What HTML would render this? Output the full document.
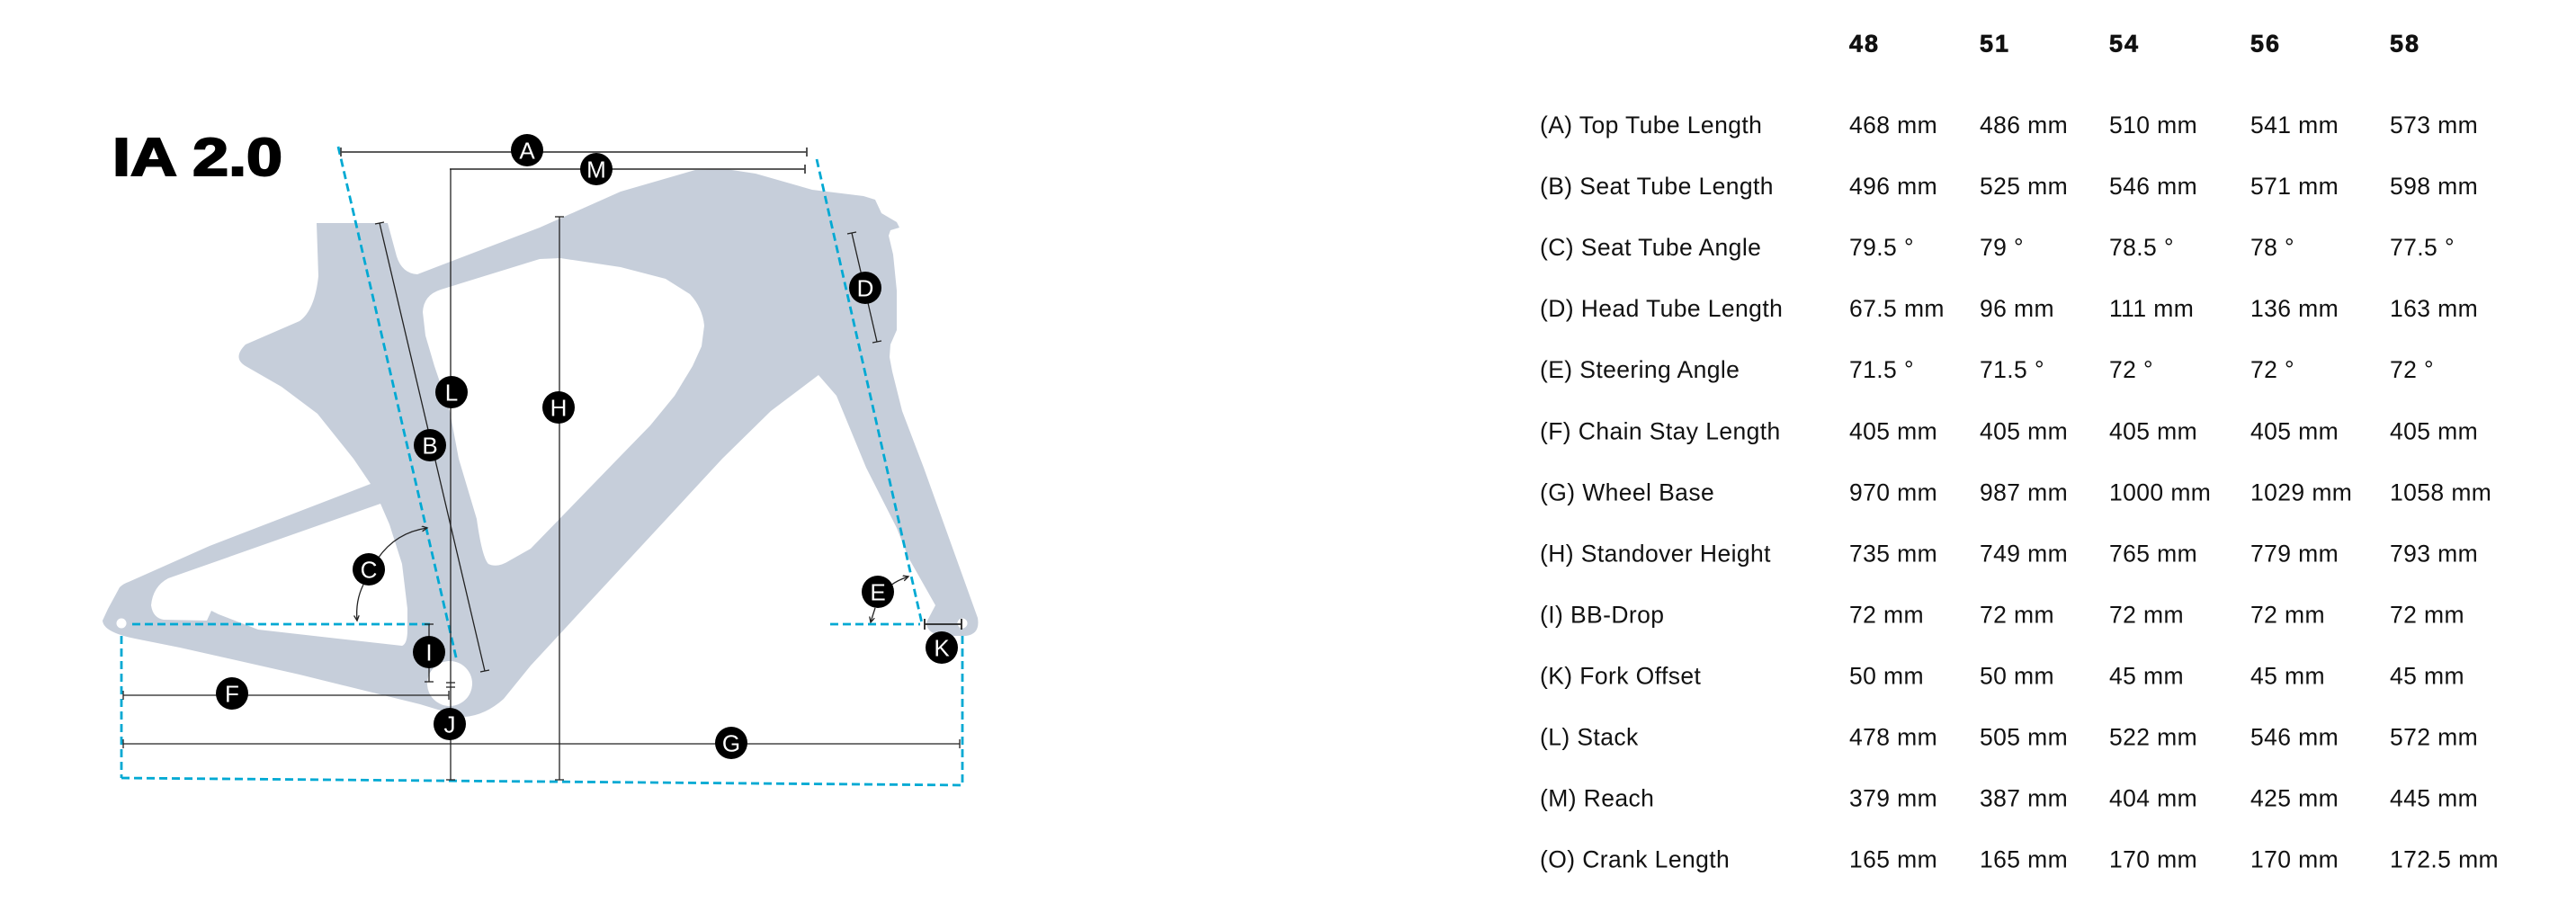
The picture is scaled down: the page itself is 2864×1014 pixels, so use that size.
<!DOCTYPE html>
<html><head><meta charset="utf-8"><style>
html,body{margin:0;padding:0;background:#fff;}
svg{display:block;}
.t{font-family:"Liberation Sans",Arial,sans-serif;font-size:26.5px;fill:#111;letter-spacing:0.4px;}
.h{font-family:"Liberation Sans",Arial,sans-serif;font-size:27px;font-weight:bold;fill:#111;stroke:#111;stroke-width:0.7px;letter-spacing:2px;}
.lt{font-family:"Liberation Sans",Arial,sans-serif;font-size:26px;fill:#fff;text-anchor:middle;}
</style></head><body>
<svg width="2864" height="1014" viewBox="0 0 2864 1014" xmlns="http://www.w3.org/2000/svg">
<defs>
<marker id="ar" markerWidth="8" markerHeight="8" refX="6" refY="3" orient="auto" markerUnits="userSpaceOnUse">
<path d="M0,0 L6,3 L0,6" fill="none" stroke="#222" stroke-width="1.3"/>
</marker>
</defs>
<rect width="2864" height="1014" fill="#fff"/>

<!-- Title -->
<text x="125" y="195" font-family="Liberation Sans, Arial, sans-serif" font-weight="bold" font-size="59" textLength="189" lengthAdjust="spacingAndGlyphs" fill="#000" stroke="#000" stroke-width="2">IA 2.0</text>

<!-- Frame silhouette -->
<path fill="#c6ceda" fill-rule="evenodd" d="
M352,248 L431,248 L441,285 Q447,304 464,305
L600,253 L690,213 L773,189 L807,188 L840,193 L903,211 L960,218 L973,222 L980,237 L997,247 L1000,253 L990,256 L988,262
L993,283 L997,323 L997,367 L990,383 L989,397 L992,413
L1003,457 L1027,520 L1087,687 Q1090,705 1074,707 L1050,707 Q1030,705 1030,692 L1040,673
L1027,650 L1010,620 L997,587 L963,520 L930,440 L910,417
L857,457 L803,510 L590,740 L560,777 Q540,795 517,797 L500,793
L467,783 L333,750 L200,720 L150,710 Q115,703 114,690 L120,677 L133,653 Q137,649 143,647
L233,607 L412,538 L393,510 L353,460 L313,430 L273,407 Q258,398 273,383 L333,357 Q350,345 354,307 Z
M490,322 L600,288 L623,287 L690,297 L740,310 L767,327 Q781,342 783,362 L780,385 L770,407 L750,440 L723,473 L687,510 L590,610 L567,623 Q553,632 543,627 Q536,620 530,577 L510,510 L500,457 L483,407 L473,373 L470,347 Q471,328 490,322 Z
M423,560 L187,643 Q170,652 168,673 Q170,687 182,689 L230,690 L235,679 L243,683 L287,700 L447,718 Q453,716 453,700 L453,677 L447,627 L433,583 Z
"/>
<circle cx="500" cy="760" r="25" fill="#fff"/>
<circle cx="135" cy="693" r="5.5" fill="#fff"/>
<circle cx="1070" cy="693" r="5.5" fill="#fff"/>

<!-- Cyan dashed lines -->
<g stroke="#00a9d3" stroke-width="2.8" stroke-dasharray="9 5" fill="none">
<line x1="376" y1="163" x2="508" y2="735"/>
<line x1="908" y1="177" x2="1025" y2="693"/>
<line x1="147" y1="694" x2="480" y2="694"/>
<line x1="135" y1="707" x2="135" y2="865"/>
<line x1="135" y1="865" x2="1070" y2="873"/>
<line x1="1070" y1="707" x2="1070" y2="873"/>
<line x1="923" y1="694" x2="1023" y2="694"/>
</g>

<!-- Dimension lines -->
<g stroke="#444" stroke-width="1.8" fill="none">
<line x1="379" y1="169" x2="897" y2="169"/>
<line x1="379" y1="164" x2="379" y2="174"/>
<line x1="897" y1="164" x2="897" y2="174"/>
<line x1="500" y1="188" x2="895" y2="188"/>
<line x1="895" y1="183" x2="895" y2="193"/>
</g>
<g stroke="#222" stroke-width="1.3" fill="none">
<line x1="501" y1="188" x2="501" y2="867"/>
<line x1="496" y1="867" x2="506" y2="867"/>
<line x1="496" y1="759" x2="506" y2="759"/>
<line x1="496" y1="764" x2="506" y2="764"/>
<line x1="622" y1="241" x2="622" y2="867"/>
<line x1="617" y1="241" x2="627" y2="241"/>
<line x1="617" y1="867" x2="627" y2="867"/>
<line x1="422" y1="248" x2="539" y2="746"/>
<line x1="417" y1="249" x2="427" y2="247"/>
<line x1="534" y1="747" x2="544" y2="745"/>
<line x1="947" y1="259" x2="975" y2="380"/>
<line x1="942" y1="260" x2="952" y2="258"/>
<line x1="970" y1="381" x2="980" y2="379"/>
<line x1="477" y1="694" x2="477" y2="758"/>
<line x1="472" y1="694" x2="482" y2="694"/>
<line x1="472" y1="758" x2="482" y2="758"/>
<line x1="137" y1="773" x2="499" y2="773"/>
<line x1="137" y1="768" x2="137" y2="778"/>
<line x1="499" y1="768" x2="499" y2="778"/>
<line x1="137" y1="827" x2="1067" y2="827"/>
<line x1="137" y1="822" x2="137" y2="832"/>
<line x1="1067" y1="822" x2="1067" y2="832"/>
<line x1="1028" y1="694" x2="1069" y2="694" stroke-width="1.8"/>
<line x1="1028" y1="688" x2="1028" y2="700" stroke-width="1.8"/>
<line x1="1069" y1="688" x2="1069" y2="700" stroke-width="1.8"/>
<path d="M420,621 Q440,592 475,587" marker-end="url(#ar)"/>
<path d="M404,650 Q395,668 397,690" marker-end="url(#ar)"/>
<path d="M990,651 Q998,645 1010,641" marker-end="url(#ar)"/>
<path d="M973,676 Q970,685 968,692" marker-end="url(#ar)"/>
</g>

<!-- Letter circles -->
<g>
<circle cx="586" cy="167" r="18" fill="#000"/><text class="lt" x="586" y="176.5">A</text>
<circle cx="663" cy="188" r="18" fill="#000"/><text class="lt" x="663" y="197.5">M</text>
<circle cx="502" cy="436" r="18" fill="#000"/><text class="lt" x="502" y="445.5">L</text>
<circle cx="478" cy="495" r="18" fill="#000"/><text class="lt" x="478" y="504.5">B</text>
<circle cx="621" cy="453" r="18" fill="#000"/><text class="lt" x="621" y="462.5">H</text>
<circle cx="962" cy="320" r="18" fill="#000"/><text class="lt" x="962" y="329.5">D</text>
<circle cx="410" cy="633" r="18" fill="#000"/><text class="lt" x="410" y="642.5">C</text>
<circle cx="976" cy="658" r="18" fill="#000"/><text class="lt" x="976" y="667.5">E</text>
<circle cx="477" cy="725" r="18" fill="#000"/><text class="lt" x="477" y="734.5">I</text>
<circle cx="1047" cy="720" r="18" fill="#000"/><text class="lt" x="1047" y="729.5">K</text>
<circle cx="258" cy="771" r="18" fill="#000"/><text class="lt" x="258" y="780.5">F</text>
<circle cx="500" cy="805" r="18" fill="#000"/><text class="lt" x="500" y="814.5">J</text>
<circle cx="813" cy="826" r="18" fill="#000"/><text class="lt" x="813" y="835.5">G</text>
</g>

<!-- Table header -->
<g>
<text class="h" x="2056" y="57.5">48</text>
<text class="h" x="2201" y="57.5">51</text>
<text class="h" x="2345" y="57.5">54</text>
<text class="h" x="2502" y="57.5">56</text>
<text class="h" x="2657" y="57.5">58</text>
</g>

<!-- Table rows -->
<g>
<text class="t" x="1712" y="148">(A) Top Tube Length</text>
<text class="t" x="2056" y="148">468 mm</text><text class="t" x="2201" y="148">486 mm</text><text class="t" x="2345" y="148">510 mm</text><text class="t" x="2502" y="148">541 mm</text><text class="t" x="2657" y="148">573 mm</text>

<text class="t" x="1712" y="216">(B) Seat Tube Length</text>
<text class="t" x="2056" y="216">496 mm</text><text class="t" x="2201" y="216">525 mm</text><text class="t" x="2345" y="216">546 mm</text><text class="t" x="2502" y="216">571 mm</text><text class="t" x="2657" y="216">598 mm</text>

<text class="t" x="1712" y="284.1">(C) Seat Tube Angle</text>
<text class="t" x="2056" y="284.1">79.5 °</text><text class="t" x="2201" y="284.1">79 °</text><text class="t" x="2345" y="284.1">78.5 °</text><text class="t" x="2502" y="284.1">78 °</text><text class="t" x="2657" y="284.1">77.5 °</text>

<text class="t" x="1712" y="352.2">(D) Head Tube Length</text>
<text class="t" x="2056" y="352.2">67.5 mm</text><text class="t" x="2201" y="352.2">96 mm</text><text class="t" x="2345" y="352.2">111 mm</text><text class="t" x="2502" y="352.2">136 mm</text><text class="t" x="2657" y="352.2">163 mm</text>

<text class="t" x="1712" y="420.2">(E) Steering Angle</text>
<text class="t" x="2056" y="420.2">71.5 °</text><text class="t" x="2201" y="420.2">71.5 °</text><text class="t" x="2345" y="420.2">72 °</text><text class="t" x="2502" y="420.2">72 °</text><text class="t" x="2657" y="420.2">72 °</text>

<text class="t" x="1712" y="488.3">(F) Chain Stay Length</text>
<text class="t" x="2056" y="488.3">405 mm</text><text class="t" x="2201" y="488.3">405 mm</text><text class="t" x="2345" y="488.3">405 mm</text><text class="t" x="2502" y="488.3">405 mm</text><text class="t" x="2657" y="488.3">405 mm</text>

<text class="t" x="1712" y="556.3">(G) Wheel Base</text>
<text class="t" x="2056" y="556.3">970 mm</text><text class="t" x="2201" y="556.3">987 mm</text><text class="t" x="2345" y="556.3">1000 mm</text><text class="t" x="2502" y="556.3">1029 mm</text><text class="t" x="2657" y="556.3">1058 mm</text>

<text class="t" x="1712" y="624.4">(H) Standover Height</text>
<text class="t" x="2056" y="624.4">735 mm</text><text class="t" x="2201" y="624.4">749 mm</text><text class="t" x="2345" y="624.4">765 mm</text><text class="t" x="2502" y="624.4">779 mm</text><text class="t" x="2657" y="624.4">793 mm</text>

<text class="t" x="1712" y="692.4">(I) BB-Drop</text>
<text class="t" x="2056" y="692.4">72 mm</text><text class="t" x="2201" y="692.4">72 mm</text><text class="t" x="2345" y="692.4">72 mm</text><text class="t" x="2502" y="692.4">72 mm</text><text class="t" x="2657" y="692.4">72 mm</text>

<text class="t" x="1712" y="760.5">(K) Fork Offset</text>
<text class="t" x="2056" y="760.5">50 mm</text><text class="t" x="2201" y="760.5">50 mm</text><text class="t" x="2345" y="760.5">45 mm</text><text class="t" x="2502" y="760.5">45 mm</text><text class="t" x="2657" y="760.5">45 mm</text>

<text class="t" x="1712" y="828.5">(L) Stack</text>
<text class="t" x="2056" y="828.5">478 mm</text><text class="t" x="2201" y="828.5">505 mm</text><text class="t" x="2345" y="828.5">522 mm</text><text class="t" x="2502" y="828.5">546 mm</text><text class="t" x="2657" y="828.5">572 mm</text>

<text class="t" x="1712" y="896.5">(M) Reach</text>
<text class="t" x="2056" y="896.5">379 mm</text><text class="t" x="2201" y="896.5">387 mm</text><text class="t" x="2345" y="896.5">404 mm</text><text class="t" x="2502" y="896.5">425 mm</text><text class="t" x="2657" y="896.5">445 mm</text>

<text class="t" x="1712" y="964.5">(O) Crank Length</text>
<text class="t" x="2056" y="964.5">165 mm</text><text class="t" x="2201" y="964.5">165 mm</text><text class="t" x="2345" y="964.5">170 mm</text><text class="t" x="2502" y="964.5">170 mm</text><text class="t" x="2657" y="964.5">172.5 mm</text>
</g>
</svg>
</body></html>
